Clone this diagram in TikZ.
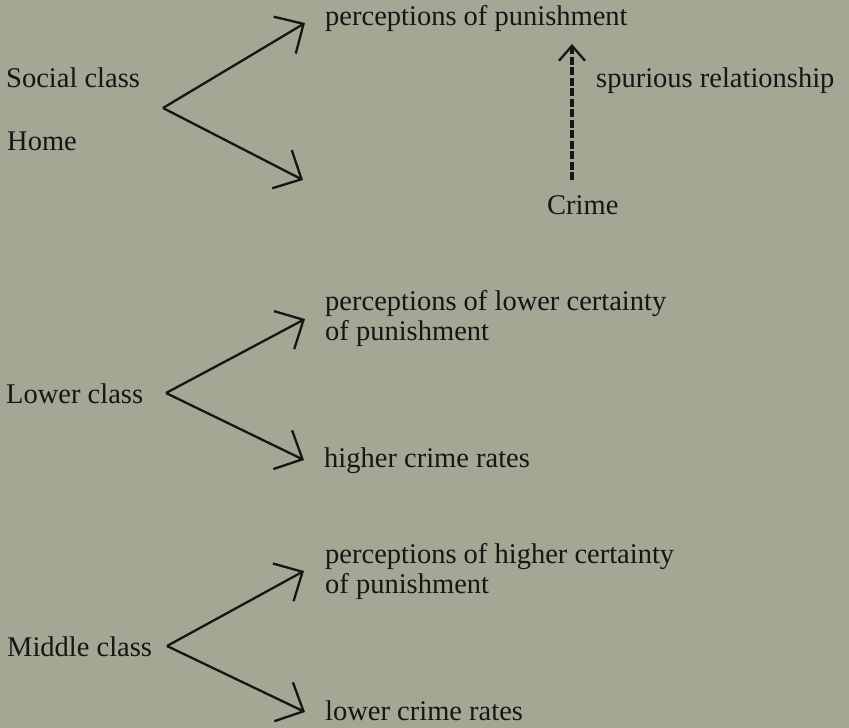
\documentclass[tikz,border=0pt]{standalone}
\usepackage{fontspec}
\setmainfont{Liberation Serif}
\usetikzlibrary{arrows.meta}
\definecolor{paper}{RGB}{163,167,147}
\definecolor{ink}{RGB}{22,22,20}

\begin{document}
\begin{tikzpicture}[x=1pt,y=-1pt,
        txt/.style={anchor=base west,inner sep=0pt,text=ink,font=\fontsize{28.5}{30}\selectfont,align=left},
        arr/.style={draw=ink,line width=2.3pt,-{Straight Barb[length=22pt,width=43pt]}},
        spur/.style={draw=ink,line width=4pt,dash pattern=on 8pt off 2.5pt,-{Straight Barb[length=15pt,width=26pt,line width=2.3pt]}}
        ]
        \fill[paper] (0,0) rectangle (849,728);
        \node[txt] (sc) at (6,87) {Social class};
        \node[txt] (hm) at (7,150) {Home};
        \node[txt] (pp) at (325,25) {perceptions of punishment};
        \node[txt] (sr) at (596,87) {spurious relationship};
        \node[txt] (cr) at (547,214) {Crime};
        \coordinate (v1) at (163,108);
        \coordinate (t1a) at (305,23);
        \coordinate (t1b) at (303,180);
        \coordinate (cb) at (572,180);
        \coordinate (ct) at (572,44);
        \draw[arr] (v1) -- (t1a);
        \draw[arr] (v1) -- (t1b);
        \draw[spur] (cb) -- (ct);
        \node[txt] (lc) at (6,403) {Lower class};
        \node[txt] (pl) at (325,340) {perceptions of lower certainty\\of punishment};
        \node[txt] (hc) at (324,467) {higher crime rates};
        \coordinate (v2) at (166,393);
        \coordinate (t2a) at (305,319);
        \coordinate (t2b) at (304,460);
        \draw[arr] (v2) -- (t2a);
        \draw[arr] (v2) -- (t2b);
        \node[txt] (mc) at (7,656) {Middle class};
        \node[txt] (ph) at (325,593) {perceptions of higher certainty\\of punishment};
        \node[txt] (lw) at (325,720) {lower crime rates};
        \coordinate (v3) at (167,646);
        \coordinate (t3a) at (304,571);
        \coordinate (t3b) at (305,712);
        \draw[arr] (v3) -- (t3a);
        \draw[arr] (v3) -- (t3b);
        \end{tikzpicture}
\end{document}
